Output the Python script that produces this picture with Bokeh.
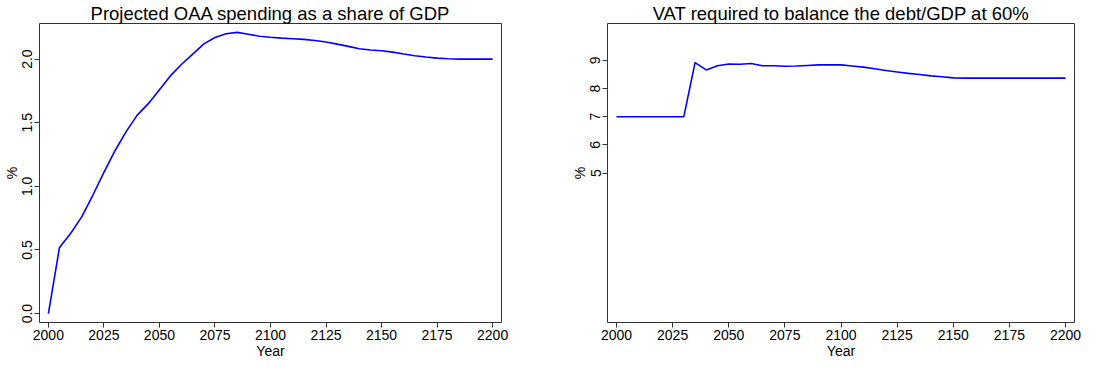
import math
from bokeh.plotting import figure
from bokeh.layouts import row
from bokeh.models import FixedTicker, NumeralTickFormatter, Range1d
from bokeh.embed import file_html
from bokeh.resources import INLINE

years = list(range(2000, 2205, 5))

oaa_share = [0.00, 0.52, 0.63, 0.76, 0.93, 1.11, 1.28, 1.43, 1.56, 1.65,
             1.76, 1.87, 1.96, 2.04, 2.12, 2.17, 2.20, 2.21, 2.195, 2.18,
             2.172, 2.165, 2.16, 2.155, 2.147, 2.135, 2.118, 2.10, 2.082, 2.072,
             2.066, 2.055, 2.04, 2.027, 2.017, 2.008, 2.003, 2.0, 2.0, 2.0, 2.0]

vat_required = [7.0, 7.0, 7.0, 7.0, 7.0, 7.0, 7.0, 8.92, 8.66, 8.81,
                8.87, 8.86, 8.89, 8.81, 8.81, 8.79, 8.80, 8.82, 8.84, 8.84,
                8.84, 8.80, 8.76, 8.70, 8.64, 8.59, 8.54, 8.50, 8.45, 8.42,
                8.38, 8.37, 8.37, 8.37, 8.37, 8.37, 8.37, 8.37, 8.37, 8.37, 8.37]

x_ticks = [2000, 2025, 2050, 2075, 2100, 2125, 2150, 2175, 2200]
left_y_ticks = [0.0, 0.5, 1.0, 1.5, 2.0]
right_y_ticks = [5, 6, 7, 8, 9]

FONT = "Liberation Sans"
AX = "#333333"


def make(title, y, yr, yticks, yfmt, width, bl, br):
    p = figure(width=width, height=361, output_backend="svg", toolbar_location=None,
               x_range=Range1d(1996, 2204), y_range=Range1d(*yr),
               min_border_left=bl, min_border_right=br,
               min_border_top=20, min_border_bottom=33)
    p.title.text = title
    p.title.text_font = FONT
    p.title.text_font_size = "18.5px"
    p.title.text_font_style = "normal"
    p.title.text_color = "black"
    p.title.align = "center"
    p.title.standoff = 0
    p.line(years, y, line_color="#0000FF", line_width=1.6)
    p.outline_line_color = AX
    p.outline_line_width = 1
    p.xgrid.visible = False
    p.ygrid.visible = False
    for ax in (p.xaxis[0], p.yaxis[0]):
        ax.axis_line_color = None
        ax.major_tick_line_color = AX
        ax.major_tick_out = 5
        ax.major_tick_in = 0
        ax.minor_tick_line_color = None
        ax.major_label_text_font = FONT
        ax.major_label_text_font_size = "14px"
        ax.major_label_text_color = "black"
        ax.axis_label_text_font = FONT
        ax.axis_label_text_font_size = "14px"
        ax.axis_label_text_font_style = "normal"
        ax.axis_label_text_color = "black"
        ax.major_label_standoff = 2
        ax.axis_label_standoff = 0
    p.xaxis.ticker = FixedTicker(ticks=x_ticks)
    p.xaxis.axis_label = "Year"
    p.yaxis.ticker = FixedTicker(ticks=yticks)
    p.yaxis.formatter = NumeralTickFormatter(format=yfmt)
    p.yaxis.major_label_orientation = "parallel"
    p.yaxis.axis_label = "%"
    return p


p1 = make("Projected OAA spending as a share of GDP", oaa_share, (-0.07, 2.28),
          left_y_ticks, "0.0", 549, 33, 48)
p2 = make("VAT required to balance the debt/GDP at 60%", vat_required, (-0.31, 10.31),
          right_y_ticks, "0", 552, 58, 27)

layout = row(p1, p2)
open("out.html", "w").write(file_html(layout, INLINE))
